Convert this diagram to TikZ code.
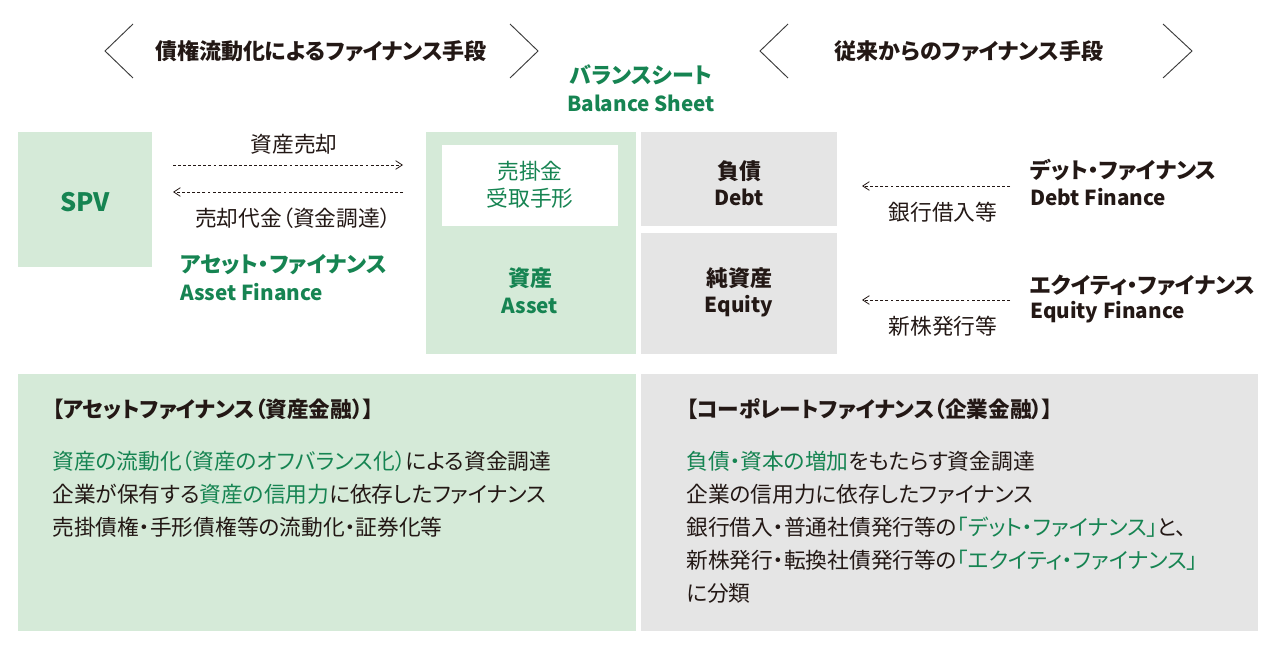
\documentclass[tikz,border=0pt]{standalone}
\usepackage{fontspec}
\setmainfont{Noto Sans CJK JP}[RawFeature={+palt}]
\usetikzlibrary{arrows.meta}
\definecolor{gfill}{RGB}{213,234,216}
\definecolor{grfill}{RGB}{229,229,229}
\definecolor{gtext}{RGB}{22,132,82}
\definecolor{dtext}{RGB}{35,24,21}
\definecolor{chevc}{RGB}{60,60,60}
\newcommand{\gr}[1]{\textcolor{gtext}{#1}}
\begin{document}
\begin{tikzpicture}[x=0.75pt,y=-0.75pt,
  panel/.style={inner sep=0pt, outer sep=0pt, anchor=north west, draw=none},
  txt/.style={inner sep=0pt, text=dtext, font=\fontsize{16.3}{19}\selectfont},
  gtxt/.style={inner sep=0pt, text=gtext, font=\fontsize{16.3}{19}\selectfont},
  gbold/.style={inner sep=0pt, text=gtext, font=\fontsize{16.5}{19}\selectfont\bfseries},
  dbold/.style={inner sep=0pt, text=dtext, font=\fontsize{16.5}{19}\selectfont\bfseries},
  glat/.style={inner sep=0pt, text=gtext, font=\fontsize{15.5}{18}\selectfont\bfseries},
  dlat/.style={inner sep=0pt, text=dtext, font=\fontsize{15.5}{18}\selectfont\bfseries},
  head/.style={inner sep=0pt, text=dtext, font=\fontsize{16.5}{19}\selectfont\bfseries},
  ttl/.style={inner sep=0pt, text=dtext, font=\fontsize{16.2}{19}\selectfont\bfseries, anchor=west},
  body/.style={txt, anchor=west},
  chev/.style={draw=chevc, line width=0.7pt},
  darr/.style={draw=dtext, line width=0.6pt, dash pattern=on 2.2pt off 1.6pt,
    -{Straight Barb[length=5pt,width=6.5pt,line width=0.6pt]}}
]
\useasboundingbox (0,0) rectangle (1277,652);

% ---- headers ----
\node[head] (h1) at (321,51) {債権流動化によるファイナンス手段};
\coordinate (c1t) at (133,24); \coordinate (c1m) at (105,51); \coordinate (c1b) at (133,78);
\draw[chev] (c1t) -- (c1m) -- (c1b);
\coordinate (c2t) at (510,24); \coordinate (c2m) at (538,51); \coordinate (c2b) at (510,78);
\draw[chev] (c2t) -- (c2m) -- (c2b);

\node[head] (h2) at (969,51) {従来からのファイナンス手段};
\coordinate (c3t) at (788,24); \coordinate (c3m) at (760,51); \coordinate (c3b) at (788,78);
\draw[chev] (c3t) -- (c3m) -- (c3b);
\coordinate (c4t) at (1163,24); \coordinate (c4m) at (1192,51); \coordinate (c4b) at (1163,78);
\draw[chev] (c4t) -- (c4m) -- (c4b);

\node[gbold] (bs1) at (641,75) {バランスシート};
\node[glat] (bs2) at (641,103) {Balance Sheet};

% ---- panels ----
\node[panel, fill=gfill, minimum width=100.5pt, minimum height=101.25pt] (spv) at (18,132) {};
\node[inner sep=0pt, text=gtext, font=\fontsize{19}{22}\selectfont\bfseries] (spvt) at (85,202) {SPV};

\node[panel, fill=gfill, minimum width=157.5pt, minimum height=166.5pt] (asset) at (426,132) {};
\node[panel, fill=white, minimum width=132pt, minimum height=60.75pt] (recv) at (442,145) {};
\node[gtxt] (r1) at (530,171) {売掛金};
\node[gtxt] (r2) at (530,198) {受取手形};
\node[gbold] (a1) at (530,278) {資産};
\node[glat] (a2) at (530,306) {Asset};

\node[panel, fill=grfill, minimum width=147pt, minimum height=70.5pt] (debt) at (641,132) {};
\node[dbold] (d1) at (739,171) {負債};
\node[dlat] (d2) at (739,197) {Debt};

\node[panel, fill=grfill, minimum width=147pt, minimum height=90.75pt] (eq) at (641,233) {};
\node[dbold] (e1) at (739,278) {純資産};
\node[dlat] (e2) at (739,306) {Equity};

% ---- left arrows ----
\node[txt] (sell) at (294,144) {資産売却};
\coordinate (s1a) at (173,165); \coordinate (s1b) at (403,165);
\draw[darr] (s1a) -- (s1b);
\coordinate (s2a) at (403,192); \coordinate (s2b) at (173,192);
\draw[darr] (s2a) -- (s2b);
\node[txt] (proc) at (293,218) {売却代金（資金調達）};
\node[gbold, anchor=west] (af1) at (180,265) {アセット・ファイナンス};
\node[glat, anchor=west] (af2) at (180,292) {Asset Finance};

% ---- right arrows ----
\coordinate (dfa) at (1010,186); \coordinate (dfb) at (862,186);
\draw[darr] (dfa) -- (dfb);
\node[txt] (bank) at (943,212) {銀行借入等};
\node[dbold, anchor=west] (df1) at (1030,170) {デット・ファイナンス};
\node[dlat, anchor=west] (df2) at (1030,197) {Debt Finance};

\coordinate (efa) at (1010,300); \coordinate (efb) at (862,300);
\draw[darr] (efa) -- (efb);
\node[txt] (stock) at (943,326) {新株発行等};
\node[dbold, anchor=west] (ef1) at (1030,285) {エクイティ・ファイナンス};
\node[dlat, anchor=west] (ef2) at (1030,312) {Equity Finance};

% ---- bottom panels ----
\node[panel, fill=gfill, minimum width=463.5pt, minimum height=192.75pt] (bl) at (18,374) {};
\node[ttl] (blt) at (52,409) {【アセットファイナンス（資産金融）】};
\node[body] (bl1) at (52,461) {\gr{資産の流動化（資産のオフバランス化）}による資金調達};
\node[body] (bl2) at (52,494) {企業が保有する\gr{資産の信用力}に依存したファイナンス};
\node[body] (bl3) at (52,527) {売掛債権・手形債権等の流動化・証券化等};

\node[panel, fill=grfill, minimum width=462.75pt, minimum height=192.75pt] (br) at (641,374) {};
\node[ttl] (brt) at (686,409) {【コーポレートファイナンス（企業金融）】};
\node[body] (br1) at (686,461) {\gr{負債・資本の増加}をもたらす資金調達};
\node[body] (br2) at (686,494) {企業の信用力に依存したファイナンス};
\node[body] (br3) at (686,527) {銀行借入・普通社債発行等の\gr{「デット・ファイナンス」}と、};
\node[body] (br4) at (686,560) {新株発行・転換社債発行等の\gr{「エクイティ・ファイナンス」}};
\node[body] (br5) at (686,593) {に分類};
\end{tikzpicture}
\end{document}
